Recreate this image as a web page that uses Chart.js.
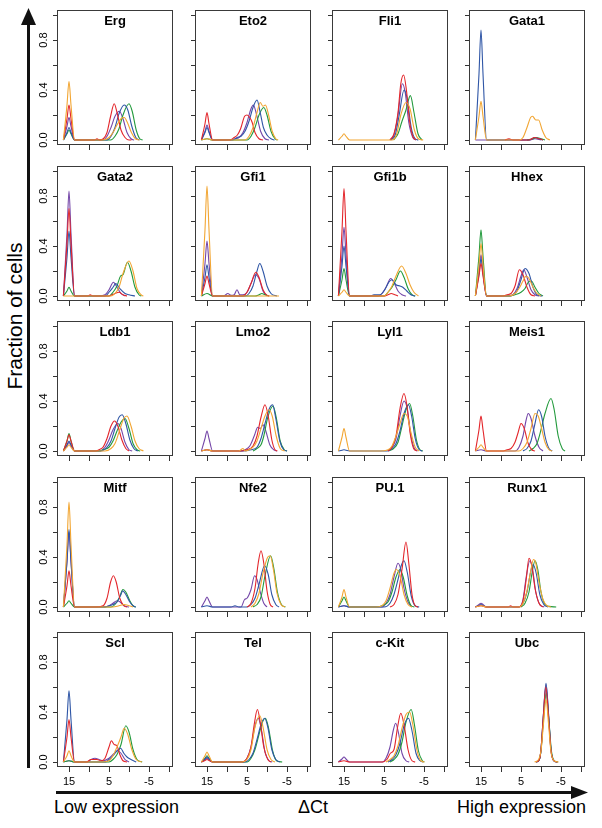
<!DOCTYPE html>
<html>
<head>
<meta charset="utf-8">
<script src="https://cdn.jsdelivr.net/npm/chart.js@4.4.1/dist/chart.umd.min.js"></script>
<style>
  body { margin: 0; background: #fff; width: 602px; height: 828px; position: relative; overflow: hidden; }
  canvas { position: absolute; }
  #frame { position: absolute; left: 0; top: 0; }
  #frame text { font-family: "Liberation Sans", Arial, Helvetica, sans-serif; font-size: 18px; fill: #000; }
</style>
</head>
<body>
<svg id="frame" width="602" height="828">
  <line x1="28.5" y1="768" x2="28.5" y2="22" stroke="#111" stroke-width="3"/>
  <polygon points="21,25 36,25 28.5,8" fill="#111"/>
  <line x1="56" y1="792.5" x2="574" y2="792.5" stroke="#111" stroke-width="3"/>
  <polygon points="571,786 571,799 588,792.5" fill="#111"/>
  <text transform="translate(22,316) rotate(-90)" text-anchor="middle" style="font-size:21px">Fraction of cells</text>
  <text x="54" y="813">Low expression</text>
  <text x="313" y="813" text-anchor="middle">ΔCt</text>
  <text x="586" y="813" text-anchor="end">High expression</text>
</svg>
<script>
// panels, left to right, top to bottom
const genes = ['Erg', 'Eto2', 'Fli1', 'Gata1', 'Gata2', 'Gfi1', 'Gfi1b', 'Hhex', 'Ldb1', 'Lmo2',
               'Lyl1', 'Meis1', 'Mitf', 'Nfe2', 'PU.1', 'Runx1', 'Scl', 'Tel', 'c-Kit', 'Ubc'];
// series order inside every gene array (first one is drawn on top)
const seriesNames = ['orange', 'red', 'blue', 'green', 'purple'];
const seriesColors = ['#f2a633', '#e3262b', '#2f56a6', '#229a3c', '#7446a8'];

const xTicks = [15, 10, 5, 0, -5, -10];
const xTickLabels = ['15', '', '5', '', '-5', ''];
const yTicks = [0, 0.2, 0.4, 0.6, 0.8, 1.0];
const yTickLabels = ['0.0', '', '0.4', '', '0.8', ''];

// density curves: [deltaCt, fraction of cells]
const erg = [
  [[16.4,0],[15.5,.28],[15,.47],[14.5,.28],[13.6,0],[6.5,0],[5,.02],[4,.06],[3,.12],[2,.17],[1.2,.18],[0.4,.14],[-0.6,.06],[-1.6,.01],[-2.6,0]],
  [[16.4,0],[15.5,.17],[15,.28],[14.5,.17],[13.6,0],[8.6,0],[8,.01],[7.4,0],[6.4,.01],[5.5,.06],[4.6,.19],[3.7,.29],[3,.22],[2,.08],[1,.02],[0,0],[-0.6,0]],
  [[16.4,0],[15.5,.06],[15,.1],[14.5,.06],[13.6,0],[5.5,0],[4.5,.03],[3.5,.1],[2.5,.21],[1.2,.28],[0.3,.24],[-0.7,.11],[-1.7,.02],[-2.6,0]],
  [[16.4,0],[15.5,.05],[15,.08],[14.5,.05],[13.6,0],[4.6,0],[3.5,.03],[2.5,.09],[1.5,.2],[0,.29],[-0.8,.23],[-1.8,.08],[-2.7,.01],[-3.4,0]],
  [[16.4,0],[15.5,.11],[15,.18],[14.5,.11],[13.6,0],[6.6,0],[5.5,.03],[4.5,.1],[3.5,.19],[2.4,.23],[1.5,.17],[0.5,.06],[-0.5,.01],[-1.3,0]]
];
const eto2 = [
  [[16.4,0],[15,.01],[13.6,0],[5.6,0],[4.5,.03],[3.5,.1],[2.5,.22],[1.7,.3],[1,.27],[0.4,.28],[-0.4,.2],[-1.3,.07],[-2.2,.01],[-2.8,0]],
  [[16.4,0],[15.5,.13],[15,.22],[14.5,.13],[13.6,0],[9.2,0],[8.2,.02],[7.4,.04],[6.6,.09],[5.6,.19],[5,.2],[4.3,.18],[3.7,.14],[3,.06],[2,.01],[1,0]],
  [[16.4,0],[15.5,.06],[15,.1],[14.5,.06],[13.6,0],[8.5,0],[7.5,.02],[6.5,.03],[5.5,.07],[4.5,.15],[3.5,.26],[2.5,.32],[1.7,.22],[0.9,.1],[0,.04],[-1,.01],[-1.9,0]],
  [[16.4,0],[15,.01],[13.6,0],[5,0],[4,.03],[3,.1],[2,.2],[0.8,.26],[0,.2],[-1,.07],[-2,.01],[-2.6,0]],
  [[16.4,0],[15.5,.07],[15,.12],[14.5,.07],[13.6,0],[9,0],[8,.01],[7,.02],[6,.06],[5,.14],[4,.25],[3.4,.28],[2.6,.2],[1.6,.07],[0.5,.01],[-0.5,0]]
];
const fli1 = [
  [[16.4,0],[15.5,.03],[15,.05],[14.5,.03],[13.6,0],[3,0],[1.8,.05],[0.8,.2],[-0.5,.3],[-1.5,.25],[-2.6,.08],[-3.6,.01],[-4.8,0]],
  [[3.5,0],[2.5,.05],[1.5,.22],[0.8,.45],[0.1,.52],[-0.6,.4],[-1.4,.15],[-2.2,.03],[-3,0]],
  [[3.3,0],[2.2,.04],[1.2,.2],[0,.4],[-0.8,.33],[-1.8,.1],[-2.8,.01],[-3.6,0]],
  [[2.6,0],[1.5,.05],[0.5,.15],[-0.4,.23],[-1.6,.355],[-2.5,.22],[-3.5,.05],[-4.5,0]],
  [[3.5,0],[2.5,.04],[1.5,.2],[0.4,.45],[-0.3,.38],[-1.2,.14],[-2.2,.02],[-3,0]]
];
const gata1 = [
  [[16.4,0],[15.5,.19],[15,.31],[14.5,.19],[13.6,0],[5.5,0],[4.5,.02],[3.5,.1],[2.6,.18],[2.1,.19],[1.3,.16],[0.6,.16],[-0.3,.08],[-1.2,.02],[-2.2,0]],
  [[9,0],[8,.01],[7,0],[3,0],[1.6,.02],[0.5,.01],[-0.5,0]],
  [[16.4,0],[15.5,.53],[15,.88],[14.5,.53],[13.6,0],[3,0],[1.5,.02],[0.5,.01],[-0.5,0]],
  [[3.5,0],[2,.01],[1.2,.02],[0,.01],[-1,0]],
  [[16.4,0],[13.6,0],[3,0],[1.5,.01],[0,0]]
];
const gata2 = [
  [[16.4,0],[13.6,0],[4.5,0],[3.5,.02],[2.5,.07],[1.5,.18],[0,.28],[-1,.2],[-2,.06],[-3,.01],[-3.6,0]],
  [[16.4,0],[15.5,.42],[15,.7],[14.5,.42],[13.6,0],[10.3,0],[9.7,.01],[9,0],[5,0],[3.5,.02],[2.5,.03],[1.5,.01],[0.5,0]],
  [[16.4,0],[15.5,.31],[15,.52],[14.5,.31],[13.6,0],[6,0],[5,.03],[4,.07],[3.3,.1],[2.3,.06],[1,.02],[0,.01],[-1.5,0]],
  [[16.4,0],[15.5,.04],[15,.07],[14.5,.04],[13.6,0],[5,0],[4,.03],[3,.08],[2.1,.16],[1.5,.17],[0.4,.27],[-0.5,.2],[-1.5,.07],[-2.5,.01],[-3.1,0]],
  [[16.4,0],[15.5,.5],[15,.84],[14.5,.5],[13.6,0],[8,0],[6,.01],[5,.05],[3.9,.11],[3,.07],[2,.02],[1,0]]
];
const gfi1 = [
  [[16.4,0],[15.5,.53],[15,.88],[14.5,.53],[13.6,0],[-3,0]],
  [[16.4,0],[15.5,.1],[15,.16],[14.5,.1],[13.6,0],[6,0],[5,.03],[4,.1],[2.8,.19],[2,.15],[1,.05],[0,.005],[-0.6,0]],
  [[16.4,0],[15.5,.15],[15,.25],[14.5,.15],[13.6,0],[5.5,0],[4.5,.02],[3.5,.08],[2.5,.2],[1.8,.26],[1,.2],[0,.08],[-1,.02],[-2.5,0]],
  [[16.4,0],[15,.02],[13.6,0],[3,0],[2,.01],[1.3,.02],[0.5,.01],[-0.5,0]],
  [[16.4,0],[15.5,.26],[15,.44],[14.5,.26],[13.6,0],[10.8,0],[9.8,.02],[9,.005],[8.2,.01],[7.5,.05],[6.8,.01],[6,.01],[5,.03],[4,.1],[2.9,.17],[2,.14],[1,.04],[0,0]]
];
const gfi1b = [
  [[16.4,0],[15.5,.03],[15,.05],[14.5,.03],[13.6,0],[5,0],[4,.03],[3,.08],[2,.16],[0.6,.24],[-0.5,.18],[-1.5,.09],[-2.5,.03],[-3.6,0]],
  [[16.4,0],[15.5,.52],[15,.86],[14.5,.52],[13.6,0],[5,0],[4,.01],[3.2,.02],[2.3,.01],[1.5,0]],
  [[16.4,0],[15.5,.24],[15,.4],[14.5,.24],[13.6,0],[8.5,0],[7.5,.01],[6,.01],[4.8,.05],[3.8,.11],[3,.13],[2,.09],[1,.08],[0.3,.07],[-0.7,.04],[-1.7,.01],[-2.8,0]],
  [[16.4,0],[15.5,.13],[15,.22],[14.5,.13],[13.6,0],[5,0],[4,.03],[3,.07],[2,.13],[0.9,.2],[0,.15],[-1,.06],[-2,.01],[-2.8,0]],
  [[16.4,0],[15.5,.33],[15,.55],[14.5,.33],[13.6,0],[6.5,0],[5.5,.02],[4.5,.07],[3.3,.14],[2.4,.1],[1.5,.04],[0.5,.01],[-0.5,0]]
];
const hhex = [
  [[16.4,0],[15.5,.25],[15,.42],[14.5,.25],[13.6,0],[8,0],[6.5,.02],[5.5,.06],[4.5,.12],[3.7,.16],[3,.14],[2,.07],[1,.02],[0,0]],
  [[16.4,0],[15.5,.16],[15,.26],[14.5,.16],[13.6,0],[9.5,0],[8.5,.01],[7.5,.02],[6.5,.08],[5.4,.21],[4.5,.17],[3.5,.07],[2.5,.01],[1.5,0]],
  [[16.4,0],[15.5,.18],[15,.3],[14.5,.18],[13.6,0],[8.5,0],[7,.01],[6,.04],[5,.13],[4,.22],[3,.18],[2,.07],[1,.01],[-0.3,0]],
  [[16.4,0],[15.5,.32],[15,.53],[14.5,.32],[13.6,0],[8,0],[6.5,.01],[5,.03],[4,.06],[3.2,.11],[2.4,.12],[1.5,.07],[0.5,.02],[-0.5,0]],
  [[16.4,0],[15.5,.2],[15,.33],[14.5,.2],[13.6,0],[8,0],[7,.01],[6,.06],[5,.16],[4.3,.21],[3.5,.15],[2.5,.05],[1.5,.01],[0.5,0]]
];
const ldb1 = [
  [[16.4,0],[15.5,.03],[15,.05],[14.5,.03],[13.6,0],[6,0],[4.5,.02],[3.5,.06],[2.5,.15],[1.3,.26],[0.5,.28],[-0.5,.2],[-1.5,.08],[-2.5,.02],[-3.6,0]],
  [[16.4,0],[15.5,.08],[15,.13],[14.5,.08],[13.6,0],[8.4,0],[7.5,.01],[6.5,.03],[5.5,.1],[4.5,.2],[3.6,.24],[2.8,.2],[1.8,.09],[0.8,.02],[0,0]],
  [[16.4,0],[15.5,.05],[15,.08],[14.5,.05],[13.6,0],[7,0],[5.5,.03],[4.5,.08],[3.5,.18],[2.5,.27],[1.7,.29],[0.8,.22],[-0.2,.09],[-1.2,.02],[-2.2,0]],
  [[16.4,0],[15.5,.08],[15,.14],[14.5,.08],[13.6,0],[7.5,0],[6.5,.01],[5,.03],[4,.08],[3,.16],[2,.23],[1,.26],[0,.18],[-1,.06],[-2,.01],[-2.8,0]],
  [[16.4,0],[15.5,.04],[15,.07],[14.5,.04],[13.6,0],[7.5,0],[6,.03],[5,.09],[4,.17],[2.8,.22],[2,.18],[1,.07],[0,.01],[-0.8,0]]
];
const lmo2 = [
  [[16.4,0],[15,.01],[13.6,0],[7,0],[6,.02],[5.4,0],[4.5,.01],[3.5,.03],[2.5,.08],[1.5,.18],[0.5,.28],[-0.5,.33],[-1.3,.28],[-2.3,.12],[-3.3,.02],[-4.4,0]],
  [[16.4,0],[15,.01],[13.6,0],[7,0],[5,.01],[3.5,.04],[2.5,.12],[1.5,.27],[0.5,.37],[-0.3,.28],[-1.2,.09],[-2,.01],[-2.6,0]],
  [[16.4,0],[15,.01],[13.6,0],[6,0],[4,.01],[2.5,.03],[1.5,.1],[0.5,.22],[-0.6,.34],[-1.4,.37],[-2.2,.26],[-3.2,.08],[-4.2,.01],[-5,0]],
  [[3.5,0],[2.5,.02],[1.5,.05],[0.8,.12],[-0.2,.27],[-1.5,.36],[-2.3,.27],[-3.3,.08],[-4.3,.01],[-5,0]],
  [[16.4,0],[15.5,.1],[15,.16],[14.5,.1],[13.6,0],[7,0],[5.5,.01],[4.3,.04],[3.2,.12],[2.3,.19],[1.7,.18],[1,.21],[0.3,.16],[-0.7,.05],[-1.7,.01],[-2.5,0]]
];
const lyl1 = [
  [[16.4,0],[15.5,.11],[15,.18],[14.5,.11],[13.6,0],[6,0],[4,.01],[3,.04],[2,.12],[1,.22],[0,.3],[-0.8,.28],[-1.8,.14],[-2.8,.03],[-3.8,0]],
  [[4,0],[3,.03],[2,.12],[1,.34],[0,.46],[-0.7,.37],[-1.6,.13],[-2.4,.02],[-3.2,0]],
  [[16.4,0],[15.5,.006],[15,.01],[14.5,.006],[13.6,0],[4.2,0],[3,.02],[2,.06],[1,.16],[0,.3],[-1.1,.37],[-1.9,.28],[-2.8,.1],[-3.8,.01],[-4.6,0]],
  [[3.8,0],[2.6,.02],[1.5,.07],[0.5,.2],[-0.4,.32],[-1.4,.38],[-2.2,.28],[-3.1,.09],[-4,.01],[-4.7,0]],
  [[4,0],[3,.03],[2,.1],[1,.28],[0,.4],[-0.8,.34],[-1.7,.13],[-2.6,.02],[-3.4,0]]
];
const meis1 = [
  [[16.4,0],[15.5,.03],[15,.05],[14.5,.03],[13.6,0],[5.5,0],[4.5,.02],[3.5,.07],[2.5,.18],[1.5,.3],[0.7,.28],[0,.2],[-1,.07],[-2,.01],[-2.8,0]],
  [[16.4,0],[15.5,.17],[15,.28],[14.5,.17],[13.6,0],[9.4,0],[8.5,.01],[7.5,.02],[6.5,.07],[5.7,.15],[5,.22],[4.2,.18],[3.2,.06],[2.3,.01],[1.5,0]],
  [[4.5,0],[3.5,.02],[2.5,.08],[1.5,.22],[0.6,.33],[-0.2,.27],[-1,.12],[-2,.02],[-2.8,0]],
  [[3,0],[2,.02],[1,.06],[0,.17],[-1,.3],[-2.5,.42],[-3.3,.33],[-4.3,.12],[-5.3,.02],[-6,0]],
  [[16.4,0],[15,.01],[13.6,0],[6.5,0],[5.5,.03],[4.5,.12],[3.7,.25],[3.2,.3],[2.5,.26],[1.5,.12],[0.5,.03],[-0.5,0]]
];
const mitf = [
  [[16.4,0],[15.5,.5],[15,.84],[14.5,.5],[13.6,0],[4,0],[2.5,.01],[1.2,.02],[0,.01],[-1,0]],
  [[16.4,0],[15.5,.17],[15,.29],[14.5,.17],[13.6,0],[8.4,0],[6.5,.01],[5.5,.07],[4.6,.2],[3.9,.25],[3.2,.2],[2.3,.07],[1.3,.01],[0.5,0]],
  [[16.4,0],[15.5,.37],[15,.62],[14.5,.37],[13.6,0],[6,0],[5,.01],[4,.02],[3,.04],[2,.1],[1.6,.13],[0.8,.1],[-0.2,.04],[-1,.01],[-1.7,0]],
  [[16.4,0],[15.5,.03],[15,.05],[14.5,.03],[13.6,0],[4.5,0],[3.5,.02],[2.5,.07],[1.5,.14],[0.8,.12],[-0.2,.05],[-1,.01],[-1.7,0]],
  [[16.4,0],[15.5,.36],[15,.6],[14.5,.36],[13.6,0],[6.5,0],[5,.01],[4,.03],[3,.05],[2.2,.04],[1.2,.01],[0,0]]
];
const nfe2 = [
  [[4,0],[3,.03],[2,.11],[1,.27],[-0.2,.4],[-0.8,.41],[-1.6,.3],[-2.5,.11],[-3.5,.02],[-4.5,0]],
  [[5,0],[4,.03],[3,.15],[2.2,.35],[1.5,.45],[0.8,.35],[0,.13],[-0.8,.02],[-1.5,0]],
  [[16.4,0],[15,.01],[13.6,0],[9,0],[8,.01],[7,0],[5,0],[4,.02],[3,.07],[2,.18],[0.6,.33],[-0.3,.26],[-1.2,.1],[-2.2,.02],[-3,0]],
  [[3.5,0],[2.5,.02],[1.5,.08],[0.5,.25],[-0.9,.41],[-1.7,.31],[-2.6,.12],[-3.6,.02],[-4.6,0]],
  [[16.4,0],[15.5,.05],[15,.08],[14.5,.05],[13.6,0],[6.5,0],[5.6,.06],[5,.07],[4,.14],[3.1,.25],[2.5,.22],[1.7,.12],[0.8,.03],[0,0]]
];
const pu1 = [
  [[16.4,0],[15.5,.08],[15,.14],[14.5,.08],[13.6,0],[7,0],[5.5,.01],[4.5,.05],[3.5,.15],[2.5,.27],[1.9,.3],[1,.25],[0,.1],[-1,.02],[-2,0]],
  [[3.5,0],[2.5,.02],[1.5,.1],[0.5,.3],[-0.5,.52],[-1.2,.35],[-2,.1],[-2.8,.01],[-3.5,0]],
  [[16.4,0],[15,.01],[13.6,0],[5,0],[3.5,.03],[2.5,.1],[1.5,.22],[0.7,.33],[0,.37],[-0.8,.28],[-1.8,.09],[-2.8,.01],[-3.8,0]],
  [[16.4,0],[15.5,.05],[15,.08],[14.5,.05],[13.6,0],[7,0],[5.5,.01],[4,.04],[3,.12],[2,.24],[1,.3],[0.2,.24],[-0.8,.09],[-1.8,.01],[-2.6,0]],
  [[16.4,0],[15,.01],[13.6,0],[5.5,0],[4.5,.03],[3.5,.1],[2.5,.24],[1.5,.35],[0.8,.3],[0,.15],[-1,.04],[-2,0]]
];
const runx1 = [
  [[16.4,0],[15,.01],[13.6,0],[5.5,0],[4.5,.03],[3.5,.13],[2.5,.3],[1.9,.38],[1.3,.35],[0.5,.2],[-0.5,.06],[-1.5,.01],[-2.5,0]],
  [[16.4,0],[15,.01],[13.6,0],[8.2,0],[7.6,.01],[7,0],[5.5,0],[4.5,.05],[3.7,.22],[3,.39],[2.3,.33],[1.5,.15],[0.5,.03],[-0.5,0]],
  [[16.4,0],[15.5,.012],[15,.02],[14.5,.012],[13.6,0],[5.5,0],[4.5,.03],[3.5,.12],[2.6,.28],[2,.34],[1.2,.27],[0.3,.1],[-0.7,.02],[-1.8,0]],
  [[5,0],[4,.03],[3,.12],[2.2,.28],[1.5,.37],[0.8,.3],[0,.12],[-1,.02],[-2,.005],[-3.8,0]],
  [[16.4,0],[15.5,.02],[15,.03],[14.5,.02],[13.6,0],[5.5,0],[4.5,.06],[3.7,.24],[2.8,.37],[2.1,.3],[1.3,.12],[0.3,.02],[-0.8,0]]
];
const scl = [
  [[16.4,0],[15.5,.05],[15,.09],[14.5,.05],[13.6,0],[7,0],[5,.01],[4,.05],[3,.12],[2,.2],[1.2,.27],[0.3,.22],[-0.7,.1],[-1.8,.02],[-3.2,0]],
  [[16.4,0],[15.5,.2],[15,.34],[14.5,.2],[13.6,0],[10.6,0],[9.5,.02],[8,.02],[7,.01],[6,.03],[5,.12],[4.4,.17],[3.7,.14],[3,.13],[2.3,.06],[1.5,.01],[0.5,0]],
  [[16.4,0],[15.5,.34],[15,.57],[14.5,.34],[13.6,0],[6,0],[5,.02],[4,.05],[3,.09],[2.1,.11],[1.3,.07],[0.5,.04],[-0.5,.02],[-1.8,0]],
  [[16.4,0],[15,.01],[13.6,0],[5,0],[4,.02],[3,.06],[2,.14],[0.8,.29],[0,.24],[-1,.1],[-2,.02],[-3.3,0]],
  [[16.4,0],[15,.01],[13.6,0],[10.5,0],[9.5,.02],[8.5,.03],[7.5,.02],[6.5,.01],[5,.03],[4,.06],[2.8,.09],[2,.07],[1,.02],[0,0]]
];
const tel = [
  [[16.4,0],[15.5,.05],[15,.08],[14.5,.05],[13.6,0],[6.3,0],[5,.02],[4,.1],[3,.28],[1.8,.37],[1,.28],[0,.1],[-1,.02],[-2,0]],
  [[16.4,0],[15.5,.012],[15,.02],[14.5,.012],[13.6,0],[6.3,0],[5,.03],[4,.12],[3.2,.3],[2.4,.42],[1.7,.32],[0.8,.12],[-0.2,.02],[-1,0]],
  [[16.4,0],[15.5,.024],[15,.04],[14.5,.024],[13.6,0],[5.5,0],[4.5,.02],[3.5,.07],[2.5,.18],[1.5,.3],[0.6,.35],[-0.2,.28],[-1.2,.1],[-2.2,.02],[-3.2,0]],
  [[16.4,0],[15.5,.03],[15,.05],[14.5,.03],[13.6,0],[5,0],[4,.03],[3,.1],[2,.22],[1,.33],[0.4,.35],[-0.4,.27],[-1.4,.09],[-2.4,.01],[-3.8,0]],
  [[16.4,0],[15.5,.018],[15,.03],[14.5,.018],[13.6,0],[6,0],[5,.03],[4,.12],[3,.29],[2.2,.35],[1.4,.26],[0.5,.08],[-0.5,.01],[-1.3,0]]
];
const ckit = [
  [[4.5,0],[3.5,.02],[2.5,.05],[1.5,.13],[0.5,.27],[-0.5,.38],[-1.4,.4],[-2.2,.3],[-3.2,.1],[-4.2,.01],[-5.1,0]],
  [[16.4,0],[15,.01],[13.6,0],[5.4,0],[4.3,.02],[3.4,.07],[2.5,.1],[1.6,.28],[0.8,.39],[0,.3],[-1,.1],[-2,.01],[-2.8,0]],
  [[4,0],[3,.02],[2,.06],[1,.15],[0,.29],[-1.1,.35],[-2,.25],[-3,.07],[-4,.01],[-4.8,0]],
  [[3.5,0],[2.5,.02],[1.5,.06],[0.5,.16],[-0.5,.32],[-1.8,.42],[-2.6,.3],[-3.6,.09],[-4.6,.01],[-5.1,0]],
  [[16.4,0],[15.5,.024],[15,.04],[14.5,.024],[13.6,0],[5.4,0],[4.5,.03],[3.5,.12],[2.7,.25],[2.1,.31],[1.3,.22],[0.5,.07],[-0.5,.01],[-1.3,0]]
];
const ubc = [
  [[1.6,0],[0.6,.02],[0,.09],[-0.6,.3],[-1.25,.5],[-1.9,.3],[-2.5,.08],[-3.3,.01],[-4.4,0]],
  [[1.2,0],[0.4,.02],[0,.1],[-0.6,.37],[-1.2,.6],[-1.85,.37],[-2.5,.09],[-3.2,.01],[-4,0]],
  [[1.2,0],[0.4,.02],[0,.1],[-0.6,.38],[-1.25,.63],[-1.9,.38],[-2.5,.1],[-3.2,.01],[-4.2,0]],
  [[1.2,0],[0.4,.02],[0,.09],[-0.6,.33],[-1.3,.55],[-1.95,.34],[-2.6,.09],[-3.3,.01],[-4.2,0]],
  [[1.2,0],[0.4,.02],[0,.1],[-0.6,.37],[-1.25,.62],[-1.9,.37],[-2.5,.09],[-3.2,.01],[-4,0]]
];
const geneData = [erg, eto2, fli1, gata1, gata2, gfi1, gfi1b, hhex, ldb1, lmo2,
                  lyl1, meis1, mitf, nfe2, pu1, runx1, scl, tel, ckit, ubc];

// layout of the 5 x 4 grid (plot box in page pixels)
const colLeft = [57, 195, 332, 469];
const rowTop = [10, 166, 321, 477, 632];
const BOX_W = 116, BOX_H = 135;
const PAD_L = 24, PAD_T = 2, PAD_R = 2, PAD_B = 24;
const FONT = '"Liberation Sans", Arial, Helvetica, sans-serif';

Chart.defaults.font.family = FONT;
Chart.defaults.color = '#000';

// box around the plot area, gene name inside, rotated y labels on the first column
const panelPlugin = {
  id: 'panel',
  beforeDatasetsDraw(chart) {
    const { ctx, chartArea: a } = chart;
    ctx.save();
    ctx.strokeStyle = '#3a3a3a';
    ctx.lineWidth = 1;
    ctx.strokeRect(a.left + 0.5, a.top + 0.5, a.width - 1, a.height - 1);
    ctx.restore();
  },
  afterDraw(chart, args, opts) {
    const { ctx, chartArea: a } = chart;
    ctx.save();
    ctx.fillStyle = '#000';
    ctx.font = 'bold 13px ' + FONT;
    ctx.textAlign = 'center';
    ctx.textBaseline = 'alphabetic';
    ctx.fillText(opts.gene, (a.left + a.right) / 2, a.top + 15);
    if (opts.yLabels) {
      ctx.font = '11px ' + FONT;
      ctx.textBaseline = 'middle';
      yTicks.forEach((v, i) => {
        if (!yTickLabels[i]) return;
        const py = chart.scales.y.getPixelForValue(v);
        ctx.save();
        ctx.translate(a.left - 13.5, py);
        ctx.rotate(-Math.PI / 2);
        ctx.fillText(yTickLabels[i], 0, 0);
        ctx.restore();
      });
    }
    ctx.restore();
  }
};

genes.forEach((gene, g) => {
  const row = Math.floor(g / 4), col = g % 4;
  const canvas = document.createElement('canvas');
  canvas.width = BOX_W + PAD_L + PAD_R;
  canvas.height = BOX_H + PAD_T + PAD_B;
  canvas.style.left = (colLeft[col] - PAD_L) + 'px';
  canvas.style.top = (rowTop[row] - PAD_T) + 'px';
  document.body.appendChild(canvas);

  new Chart(canvas, {
    type: 'line',
    data: {
      datasets: geneData[g].map((pts, i) => ({
        label: seriesNames[i],
        data: pts.map(p => ({ x: p[0], y: p[1] })),
        borderColor: seriesColors[i],
        borderWidth: 1.1,
        pointRadius: 0,
        fill: false,
        cubicInterpolationMode: 'monotone'
      }))
    },
    options: {
      responsive: false,
      animation: false,
      devicePixelRatio: 1,
      events: [],
      layout: { padding: { top: PAD_T, right: PAD_R, left: 0, bottom: 0 } },
      plugins: {
        legend: { display: false },
        tooltip: { enabled: false },
        panel: { gene: gene, yLabels: col === 0 }
      },
      scales: {
        x: {
          type: 'linear',
          reverse: true,
          min: -11,
          max: 18,
          afterBuildTicks: s => { s.ticks = xTicks.map(v => ({ value: v })); },
          afterFit: s => { s.height = PAD_B; },
          border: { display: false },
          grid: { drawOnChartArea: false, tickLength: 5, color: '#333' },
          ticks: {
            display: row === 4,
            autoSkip: false,
            maxRotation: 0,
            padding: 3,
            font: { size: 11 },
            callback: v => xTickLabels[xTicks.indexOf(v)]
          }
        },
        y: {
          min: -0.04,
          max: 1.04,
          afterBuildTicks: s => { s.ticks = yTicks.map(v => ({ value: v })); },
          afterFit: s => { s.width = PAD_L; },
          border: { display: false },
          grid: { drawOnChartArea: false, tickLength: 4, color: '#333' },
          ticks: { display: false }
        }
      }
    },
    plugins: [panelPlugin]
  });
});
</script>
</body>
</html>
